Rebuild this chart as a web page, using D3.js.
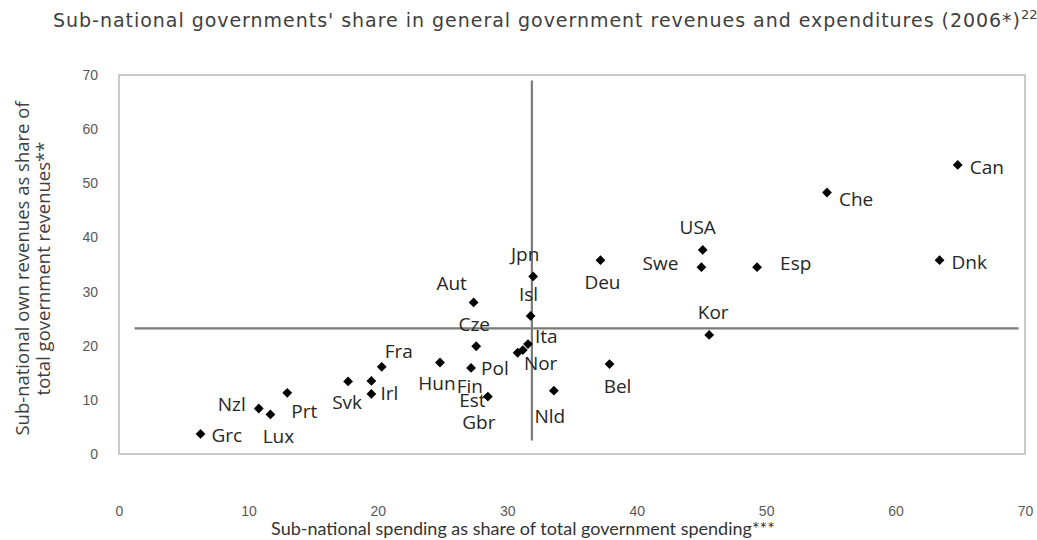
<!DOCTYPE html>
<html>
<head>
<meta charset="utf-8">
<script src="https://cdn.jsdelivr.net/npm/d3@7"></script>
<style>
  body { margin: 0; background: #fff; }
  svg { display: block; }
</style>
</head>
<body>
<div class="chart"></div>
<script>
// data
var countries = ["Grc","Nzl","Lux","Prt","Svk","Est","Irl","Fra","Hun","Aut","Cze","Pol","Gbr",
                 "Jpn","Isl","Ita","Fin","Nor","Nld","Can","Che","USA","Swe","Deu","Esp","Dnk","Kor","Bel"];
var spending = [6.3,10.8,11.7,13.0,17.7,19.5,19.5,20.3,24.8,27.4,27.6,27.2,28.5,
                32.0,31.8,31.6,31.2,30.8,33.6,64.8,54.7,45.1,45.0,37.2,49.3,63.4,45.6,37.9];
var revenues = [3.7,8.4,7.3,11.3,13.4,13.5,11.1,16.1,16.9,28.0,19.9,15.9,10.6,
                32.8,25.5,20.3,19.2,18.7,11.7,53.4,48.3,37.7,34.5,35.8,34.5,35.8,22.0,16.6];
var xTicks = [0,10,20,30,40,50,60,70];
var yTicks = [0,10,20,30,40,50,60,70];
// cross lines (averages)
var avgSpending = 31.9, avgRevenues = 23.2;
var hLineRange = [1.2, 69.5], vLineRange = [2.5, 69];

// where each label sits relative to its marker: [anchor, dx, dy]
var labelPos = {
    Grc: ["start", 11, 1], Nzl: ["end", -13, -4], Lux: ["middle", 8, 22], Prt: ["middle", 17, 19],
    Svk: ["middle", -1, 21], Est: ["middle", 101, 19], Irl: ["start", 9, -1], Fra: ["middle", 17, -15],
    Hun: ["middle", -3, 21], Aut: ["middle", -22, -19], Cze: ["middle", -2, -22], Pol: ["start", 10, 0],
    Gbr: ["middle", -9, 26], Jpn: ["middle", -8, -22], Isl: ["middle", -2, -22], Ita: ["start", 7, -8],
    Fin: ["middle", -53, 36], Nor: ["middle", 23, 11], Nld: ["middle", -4, 26], Can: ["start", 12, 2],
    Che: ["start", 12, 7], USA: ["middle", -5, -23], Swe: ["end", -23, -4], Deu: ["middle", 2, 22],
    Esp: ["start", 23, -4], Dnk: ["start", 12, 2], Kor: ["middle", 4, -23], Bel: ["middle", 8, 22]
};

var width = 1037, height = 540;
var margin = {top: 75, right: 12, bottom: 86, left: 119};
var plotW = width - margin.left - margin.right,
    plotH = height - margin.top - margin.bottom;

var svg = d3.select(".chart").append("svg")
    .attr("width", width)
    .attr("height", height);

svg.append("rect").attr("width", width).attr("height", height).attr("fill", "#fff");

var x = d3.scaleLinear().domain([0, 70]).range([0, plotW]);
var y = d3.scaleLinear().domain([0, 70]).range([plotH, 0]);

var g = svg.append("g")
    .attr("transform", "translate(" + margin.left + "," + margin.top + ")");

// plot frame
g.append("rect")
    .attr("width", plotW).attr("height", plotH)
    .attr("fill", "none").attr("stroke", "#b8b8b8").attr("stroke-width", 1.5);

// axes: labels only, no lines (excel style, x labels sit well below the frame)
var xAxis = g.append("g")
    .attr("transform", "translate(0," + (plotH + 52) + ")")
    .call(d3.axisBottom(x).tickValues(xTicks).tickSize(0).tickPadding(0));
var yAxis = g.append("g")
    .attr("transform", "translate(-21,0)")
    .call(d3.axisLeft(y).tickValues(yTicks).tickSize(0).tickPadding(0));
[xAxis, yAxis].forEach(function(a) {
    a.select(".domain").remove();
    a.selectAll("text")
        .attr("fill", "#595959")
        .style("font-family", "'Liberation Sans Narrow', 'Liberation Sans', Arial, sans-serif")
        .style("font-size", "14px");
});

// reference cross
g.append("line")
    .attr("x1", x(hLineRange[0])).attr("x2", x(hLineRange[1]))
    .attr("y1", y(avgRevenues)).attr("y2", y(avgRevenues))
    .attr("stroke", "#7a7a7a").attr("stroke-width", 2.2);
g.append("line")
    .attr("x1", x(avgSpending)).attr("x2", x(avgSpending))
    .attr("y1", y(vLineRange[0])).attr("y2", y(vLineRange[1]))
    .attr("stroke", "#7a7a7a").attr("stroke-width", 2.2);

var points = countries.map(function(c, i) {
    return {name: c, sx: spending[i], ry: revenues[i]};
});

// markers
g.selectAll(".pt").data(points).enter().append("path")
    .attr("class", "pt")
    .attr("d", d3.symbol().type(d3.symbolSquare).size(48))
    .attr("transform", function(d) {
        return "translate(" + x(d.sx) + "," + y(d.ry) + ")rotate(45)";
    })
    .attr("fill", "#000");

// data labels
g.selectAll(".lbl").data(points).enter().append("text")
    .attr("class", "lbl")
    .attr("x", function(d) { return x(d.sx) + labelPos[d.name][1]; })
    .attr("y", function(d) { return y(d.ry) + labelPos[d.name][2]; })
    .attr("dy", "0.35em")
    .attr("text-anchor", function(d) { return labelPos[d.name][0]; })
    .style("font-family", "'Open Sans', sans-serif")
    .style("font-size", "19px")
    .attr("fill", "#262626")
    .text(function(d) { return d.name; });

// title
var title = svg.append("text")
    .attr("x", 53).attr("y", 27)
    .style("font-family", "'DejaVu Sans', sans-serif")
    .style("font-size", "19px")
    .attr("fill", "#404040");
title.append("tspan")
    .attr("textLength", 967).attr("lengthAdjust", "spacing")
    .text("Sub-national governments' share in general government revenues and expenditures (2006*)");
title.append("tspan")
    .attr("dy", -8).style("font-size", "13px")
    .text("22");

// axis titles
svg.append("text")
    .attr("x", 523).attr("y", 535)
    .attr("text-anchor", "middle")
    .style("font-family", "Lato, sans-serif")
    .style("font-size", "18px")
    .attr("fill", "#333")
    .text("Sub-national spending as share of total government spending***");

var yTitle = svg.append("text")
    .attr("transform", "translate(29," + (margin.top + plotH / 2 + 4) + ")rotate(-90)")
    .attr("text-anchor", "middle")
    .style("font-family", "'Open Sans', sans-serif")
    .style("font-size", "18.5px")
    .attr("fill", "#404040");
yTitle.append("tspan").attr("x", 0).attr("dy", 0).text("Sub-national own revenues as share of");
yTitle.append("tspan").attr("x", 0).attr("dy", 21).text("total government revenues**");
</script>
</body>
</html>
